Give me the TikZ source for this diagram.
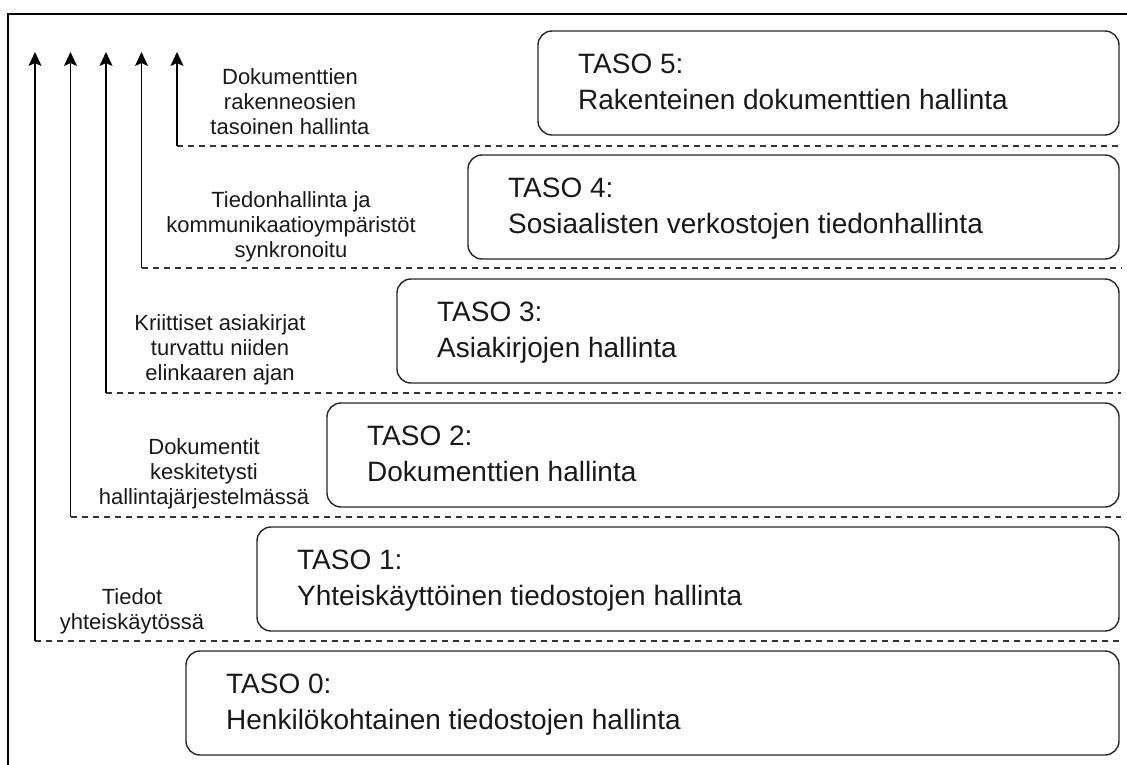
\documentclass[tikz,border=0pt]{standalone}
\usepackage{fontspec}
\setmainfont{Liberation Sans}
\usetikzlibrary{arrows.meta,calc}
\begin{document}
\begin{tikzpicture}[x=1pt,y=-1pt,
  level/.style={draw=black!85, line width=1.4pt, rounded corners=14pt, minimum height=104pt, anchor=north west, inner sep=0pt, outer sep=0pt},
  boxtext/.style={anchor=north west, align=left, inner sep=0pt, text=black!90, font=\fontsize{28}{36}\selectfont},
  lbl/.style={anchor=north, align=center, inner sep=0pt, text=black!90, font=\fontsize{22}{25}\selectfont},
  sep/.style={line width=1.5pt, dash pattern=on 6pt off 5pt, draw=black!80},
  up/.style={line width=1.6pt, -{Stealth[length=14pt,width=13pt,inset=3pt]}},
  frame/.style={line width=1.8pt}]
\useasboundingbox (0,0) rectangle (1127,765);
% frame
\coordinate (fb) at (8,765);
\coordinate (fc) at (8,14);
\coordinate (fr) at (1127,14);
\draw[frame] (fb) -- (fc) -- (fr);

% level boxes
\node[level, minimum width=933pt] (b0) at (186,651) {};
\node[level, minimum width=862pt] (b1) at (257,527) {};
\node[level, minimum width=792pt] (b2) at (327,403) {};
\node[level, minimum width=722pt] (b3) at (397,279) {};
\node[level, minimum width=651pt] (b4) at (468,155) {};
\node[level, minimum width=581pt] (b5) at (538,31) {};

% box texts
\node[boxtext] (t0) at ($(b0.north west)+(40,23)$) {TASO 0:\\Henkilökohtainen tiedostojen hallinta};
\node[boxtext] (t1) at ($(b1.north west)+(40,23)$) {TASO 1:\\Yhteiskäyttöinen tiedostojen hallinta};
\node[boxtext] (t2) at ($(b2.north west)+(40,23)$) {TASO 2:\\Dokumenttien hallinta};
\node[boxtext] (t3) at ($(b3.north west)+(40,23)$) {TASO 3:\\Asiakirjojen hallinta};
\node[boxtext] (t4) at ($(b4.north west)+(40,23)$) {TASO 4:\\Sosiaalisten verkostojen tiedonhallinta};
\node[boxtext] (t5) at ($(b5.north west)+(40,23)$) {TASO 5:\\Rakenteinen dokumenttien hallinta};

% separators and arrows
\coordinate (d0) at (35,641);   \coordinate (e0) at (1121,641);  \coordinate (a0) at (35,52);
\coordinate (d1) at (70.5,517); \coordinate (e1) at (1121,517);  \coordinate (a1) at (70.5,52);
\coordinate (d2) at (106,393);  \coordinate (e2) at (1121,393);  \coordinate (a2) at (106,52);
\coordinate (d3) at (141.5,268);\coordinate (e3) at (1121,268);  \coordinate (a3) at (141.5,52);
\coordinate (d4) at (177,146);  \coordinate (e4) at (1121,146);  \coordinate (a4) at (177,52);
\foreach \i in {0,...,4}{
  \draw[sep] (d\i) -- (e\i);
  \draw[up] (d\i) -- (a\i);
}

% labels
\node[lbl] (l0) at (132,588) {Tiedot\\yhteiskäytössä};
\node[lbl] (l1) at (204,438) {Dokumentit\\keskitetysti\\hallintajärjestelmässä};
\node[lbl] (l2) at (220,314) {Kriittiset asiakirjat\\turvattu niiden\\elinkaaren ajan};
\node[lbl] (l3) at (291,191) {Tiedonhallinta ja\\kommunikaatioympäristöt\\synkronoitu};
\node[lbl] (l4) at (290,68) {Dokumenttien\\rakenneosien\\tasoinen hallinta};
\end{tikzpicture}
\end{document}
